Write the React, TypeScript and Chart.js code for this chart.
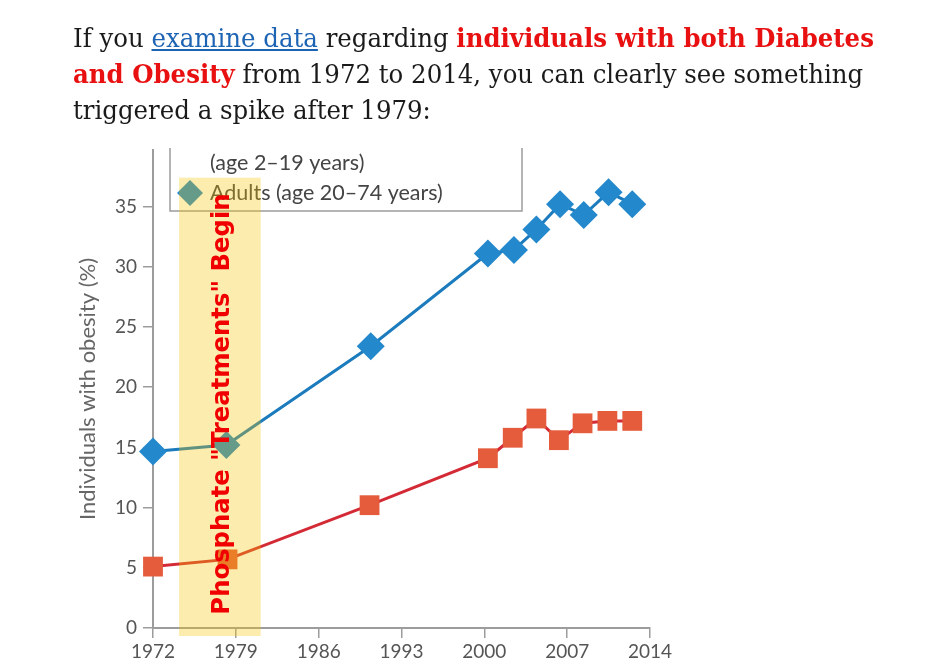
import React, { useEffect, useRef } from 'react';
import { Chart, registerables } from 'chart.js';

Chart.register(...registerables);

// ---- data ----
const adultYears = [1972, 1978.2, 1990.4, 2000.3, 2002.5, 2004.4, 2006.4, 2008.4, 2010.5, 2012.5];
const adultObesity = [14.65, 15.2, 23.4, 31.1, 31.4, 33.1, 35.2, 34.3, 36.2, 35.2];
const childYears = [1972, 1978.3, 1990.3, 2000.3, 2002.4, 2004.4, 2006.3, 2008.3, 2010.4, 2012.5];
const childObesity = [5.1, 5.7, 10.2, 14.1, 15.8, 17.4, 15.6, 17.0, 17.2, 17.2];

const xTickYears = [1972, 1979, 1986, 1993, 2000, 2007, 2014];
const yTickValues = [0, 5, 10, 15, 20, 25, 30, 35];

const yAxisTitle = 'Individuals with obesity (%)';
const legendChildLine = '(age 2\u201319 years)';
const legendAdultLine = 'Adults (age 20\u201374 years)';

const bandStartYear = 1974.2;
const bandEndYear = 1981.1;
const bandTopValue = 37.4;
const annotationText = 'Phosphate "Treatments" Begin';
const annotationCenterValue = 18.6;

const BLUE_POINT = '#2388cc';
const BLUE_LINE = '#1b7bbd';
const RED_POINT = '#e55c3c';
const RED_LINE = '#d42a36';

const overlayPlugin = {
  id: 'overlay',
  afterDatasetsDraw(chart: any) {
    const { ctx, chartArea } = chart;
    const x = chart.scales.x;
    const y = chart.scales.y;
    const L = chartArea.left;
    const T = chartArea.top;
    ctx.save();
    // legend box (top clipped)
    ctx.strokeStyle = '#9c9c9c';
    ctx.lineWidth = 1.5;
    ctx.beginPath();
    ctx.moveTo(L + 17, T - 2);
    ctx.lineTo(L + 17, T + 61);
    ctx.lineTo(L + 369, T + 61);
    ctx.lineTo(L + 369, T - 2);
    ctx.stroke();
    ctx.font = '21.5px Lato';
    ctx.fillStyle = '#444';
    ctx.textAlign = 'left';
    ctx.textBaseline = 'middle';
    ctx.fillText(legendChildLine, L + 57, T + 13);
    const dx = L + 37;
    const dy = T + 43;
    ctx.fillStyle = BLUE_POINT;
    ctx.beginPath();
    ctx.moveTo(dx - 13, dy);
    ctx.lineTo(dx, dy - 13);
    ctx.lineTo(dx + 13, dy);
    ctx.lineTo(dx, dy + 13);
    ctx.closePath();
    ctx.fill();
    ctx.fillStyle = '#444';
    ctx.fillText(legendAdultLine, L + 57, dy);

    // highlight band
    const bx0 = x.getPixelForValue(bandStartYear);
    const bx1 = x.getPixelForValue(bandEndYear);
    const by0 = y.getPixelForValue(bandTopValue);
    const by1 = y.getPixelForValue(0) + 8;
    ctx.fillStyle = 'rgba(245,196,0,0.32)';
    ctx.fillRect(bx0, by0, bx1 - bx0, by1 - by0);

    // rotated annotation
    ctx.translate((bx0 + bx1) / 2 + 9, y.getPixelForValue(annotationCenterValue));
    ctx.rotate(-Math.PI / 2);
    ctx.font = 'bold 24.3px "DejaVu Sans"';
    ctx.fillStyle = '#f00000';
    ctx.textAlign = 'center';
    ctx.textBaseline = 'alphabetic';
    ctx.fillText(annotationText, 0, 0);
    ctx.restore();
  },
};

function ObesityChart() {
  const ref = useRef<HTMLCanvasElement | null>(null);
  useEffect(() => {
    if (!ref.current) return;
    const chart = new Chart(ref.current, {
      type: 'line',
      data: {
        datasets: [
          {
            label: 'Adults',
            data: adultYears.map((yr, i) => ({ x: yr, y: adultObesity[i] })),
            borderColor: BLUE_LINE,
            backgroundColor: BLUE_POINT,
            pointBackgroundColor: BLUE_POINT,
            pointBorderColor: BLUE_POINT,
            pointStyle: 'rectRot',
            pointRadius: 14,
            pointBorderWidth: 0,
            borderWidth: 3,
            tension: 0,
            clip: false,
          },
          {
            label: 'Children',
            data: childYears.map((yr, i) => ({ x: yr, y: childObesity[i] })),
            borderColor: RED_LINE,
            backgroundColor: RED_POINT,
            pointBackgroundColor: RED_POINT,
            pointBorderColor: RED_POINT,
            pointStyle: 'rect',
            pointRadius: 14,
            pointBorderWidth: 0,
            borderWidth: 3,
            tension: 0,
            clip: false,
          },
        ],
      },
      options: {
        responsive: false,
        animation: false,
        events: [],
        layout: { padding: { left: 0, top: 150, right: 300, bottom: 0 } },
        plugins: { legend: { display: false }, tooltip: { enabled: false } },
        scales: {
          x: {
            type: 'linear',
            min: 1972,
            max: 2014,
            afterBuildTicks: (s: any) => {
              s.ticks = xTickYears.map((v) => ({ value: v }));
            },
            afterFit: (s: any) => {
              s.height = 38;
            },
            grid: { drawOnChartArea: false, drawTicks: true, tickLength: 10, color: '#9c9c9c', lineWidth: 1.5 },
            border: { display: true, color: '#9c9c9c', width: 2 },
            ticks: {
              autoSkip: false,
              maxRotation: 0,
              padding: 2,
              color: '#555',
              font: { family: 'Lato', size: 19 },
              callback: (v: any) => String(v),
            },
          },
          y: {
            type: 'linear',
            min: 0,
            max: 39.7,
            afterBuildTicks: (s: any) => {
              s.ticks = yTickValues.map((v) => ({ value: v }));
            },
            afterFit: (s: any) => {
              s.width = 153;
            },
            grid: { drawOnChartArea: false, drawTicks: true, tickLength: 10, color: '#9c9c9c', lineWidth: 1.5 },
            border: { display: true, color: '#9c9c9c', width: 2 },
            ticks: {
              padding: 6,
              color: '#555',
              font: { family: 'Lato', size: 19 },
              callback: (v: any) => String(v),
            },
            title: {
              display: true,
              text: yAxisTitle,
              color: '#666',
              font: { family: 'Lato', size: 22 },
              padding: { top: 75, bottom: 0 },
            },
          },
        },
      },
      plugins: [overlayPlugin],
    });
    return () => chart.destroy();
  }, []);
  return <canvas ref={ref} width={950} height={666} style={{ position: 'absolute', left: 0, top: 0 }} />;
}

export default function App() {
  const red: React.CSSProperties = { color: '#e81010', fontWeight: 'bold' };
  return (
    <div style={{ position: 'absolute', left: 0, top: 0, width: 950, height: 666, background: '#fff', overflow: 'hidden' }}>
      <ObesityChart />
      <div
        style={{
          position: 'absolute',
          left: 73,
          top: 20,
          fontFamily: '"DejaVu Serif", serif',
          fontSize: 26,
          lineHeight: '36px',
          color: '#1a1a1a',
          whiteSpace: 'nowrap',
          transform: 'scaleX(0.94)',
          transformOrigin: 'left top',
        }}
      >
        If you{' '}
        <a href="#" style={{ color: '#1e64b4', textDecoration: 'underline' }}>
          examine data
        </a>{' '}
        regarding <span style={red}>individuals with both Diabetes</span>
        <br />
        <span style={red}>and Obesity</span> from 1972 to 2014, you can clearly see something
        <br />
        triggered a spike after 1979:
      </div>
    </div>
  );
}
